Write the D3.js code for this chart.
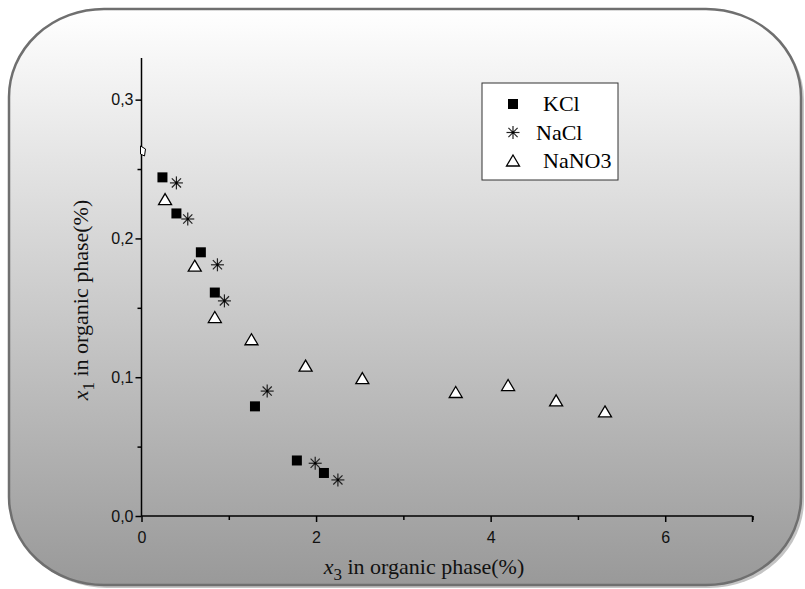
<!DOCTYPE html>
<html>
<head>
<meta charset="utf-8">
<script src="https://cdn.jsdelivr.net/npm/d3@7"></script>
<style>
  body { margin: 0; background: #fff; }
  svg { display: block; }
</style>
</head>
<body>
<div id="chart"></div>
<script>
// data
var kclX = [0.24, 0.40, 0.68, 0.84, 1.30, 1.78, 2.09];
var kclY = [0.244, 0.218, 0.190, 0.161, 0.079, 0.040, 0.031];

var naclX = [0.40, 0.53, 0.87, 0.95, 1.44, 1.99, 2.25];
var naclY = [0.240, 0.214, 0.181, 0.155, 0.090, 0.038, 0.026];

var nano3X = [0.27, 0.61, 0.84, 1.26, 1.88, 2.53, 3.60, 4.20, 4.75, 5.31];
var nano3Y = [0.228, 0.180, 0.143, 0.127, 0.108, 0.099, 0.089, 0.094, 0.083, 0.075];

var seriesNames = ["KCl", "NaCl", "NaNO3"];
var xTicks = [0, 2, 4, 6];
var xMinor = [1, 3, 5, 7];
var yTicks = [0.0, 0.1, 0.2, 0.3];
var yMinor = [0.05, 0.15, 0.25];

var W = 805, H = 589;

var svg = d3.select("#chart").append("svg")
    .attr("width", W)
    .attr("height", H);

var defs = svg.append("defs");
var grad = defs.append("linearGradient")
    .attr("id", "bg")
    .attr("x1", 0).attr("y1", 0).attr("x2", 0).attr("y2", 1);
grad.append("stop").attr("offset", "0%").attr("stop-color", "#ffffff");
grad.append("stop").attr("offset", "100%").attr("stop-color", "#999999");

// rounded frame with a soft shadow
svg.append("rect")
    .attr("x", 12).attr("y", 12)
    .attr("width", 792).attr("height", 576)
    .attr("rx", 95).attr("ry", 88)
    .attr("fill", "#c4c4c4");
svg.append("rect")
    .attr("x", 9).attr("y", 9)
    .attr("width", 792).attr("height", 576)
    .attr("rx", 95).attr("ry", 88)
    .attr("fill", "url(#bg)")
    .attr("stroke", "#6f6f6f")
    .attr("stroke-width", 2.5);

var x = d3.scaleLinear().domain([0, 7]).range([141.5, 752.5]);
var y = d3.scaleLinear().domain([0, 0.33]).range([516, 58]);

var fmt = function(d) { return d3.format(".1f")(d).replace(".", ","); };

// x axis
var xAxis = svg.append("g")
    .attr("transform", "translate(0," + y(0) + ")")
    .call(d3.axisBottom(x).tickValues(xTicks).tickSize(6).tickPadding(10)
        .tickFormat(d3.format("d")));
svg.append("g")
    .attr("transform", "translate(0," + y(0) + ")")
    .call(d3.axisBottom(x).tickValues(xMinor).tickSize(4).tickFormat(""))
    .select(".domain").remove();

// y axis
var yAxis = svg.append("g")
    .attr("transform", "translate(" + x(0) + ",0)")
    .call(d3.axisLeft(y).tickValues(yTicks).tickSize(6).tickPadding(2)
        .tickFormat(fmt));
svg.append("g")
    .attr("transform", "translate(" + x(0) + ",0)")
    .call(d3.axisLeft(y).tickValues(yMinor).tickSize(4).tickFormat(""))
    .select(".domain").remove();

xAxis.select(".domain").remove();
yAxis.select(".domain").remove();
svg.append("line")
    .attr("x1", x(0)).attr("x2", x(7))
    .attr("y1", y(0)).attr("y2", y(0))
    .attr("stroke", "#000").attr("stroke-width", 1.5);
svg.append("line")
    .attr("x1", x(7)).attr("x2", x(7))
    .attr("y1", y(0)).attr("y2", y(0) + 6)
    .attr("stroke", "#000").attr("stroke-width", 1.5);
svg.append("line")
    .attr("x1", x(0)).attr("x2", x(0))
    .attr("y1", y(0.33)).attr("y2", y(0))
    .attr("stroke", "#000").attr("stroke-width", 1.5);

svg.selectAll(".tick line").attr("stroke", "#000").attr("stroke-width", 1.5);
svg.selectAll(".tick text")
    .attr("fill", "#111")
    .style("font-family", "'Liberation Sans', Arial, sans-serif")
    .style("font-size", "16px");

// axis break mark on the y axis
var bY = y(0.263);
svg.append("path")
    .attr("d", "M" + (x(0) - 1) + "," + (bY - 5) + " L" + (x(0) + 4) + "," + (bY - 2) +
        " L" + (x(0) + 3) + "," + (bY + 5) + " L" + (x(0) - 1) + "," + (bY + 3) + "Z")
    .attr("fill", "#fff")
    .attr("stroke", "#000")
    .attr("stroke-width", 1);

// markers
function squareMark(g, cx, cy) {
    g.append("rect")
        .attr("x", cx - 5).attr("y", cy - 5)
        .attr("width", 10).attr("height", 10)
        .attr("fill", "#000");
}
function starMark(g, cx, cy) {
    var r = 6.5;
    for (var k = 0; k < 4; k++) {
        var a = k * Math.PI / 4;
        g.append("line")
            .attr("x1", cx - r * Math.cos(a)).attr("y1", cy - r * Math.sin(a))
            .attr("x2", cx + r * Math.cos(a)).attr("y2", cy + r * Math.sin(a))
            .attr("stroke", "#222").attr("stroke-width", 1.2);
    }
    g.append("circle").attr("cx", cx).attr("cy", cy).attr("r", 1.3).attr("fill", "#000");
}
function triMark(g, cx, cy) {
    g.append("path")
        .attr("d", "M" + cx + "," + (cy - 6) + " L" + (cx + 6.5) + "," + (cy + 5) +
            " L" + (cx - 6.5) + "," + (cy + 5) + "Z")
        .attr("fill", "#fff")
        .attr("stroke", "#000")
        .attr("stroke-width", 1.3);
}

var marks = svg.append("g");
var kcl = kclX.map(function(v, i) { return {x: v, y: kclY[i]}; });
var nacl = naclX.map(function(v, i) { return {x: v, y: naclY[i]}; });
var nano3 = nano3X.map(function(v, i) { return {x: v, y: nano3Y[i]}; });

nano3.forEach(function(d) { triMark(marks, x(d.x), y(d.y)); });
kcl.forEach(function(d) { squareMark(marks, x(d.x), y(d.y)); });
nacl.forEach(function(d) { starMark(marks, x(d.x), y(d.y)); });

// legend
var leg = svg.append("g");
leg.append("rect")
    .attr("x", 482).attr("y", 83)
    .attr("width", 136).attr("height", 97)
    .attr("fill", "#fff")
    .attr("stroke", "#333")
    .attr("stroke-width", 1);
var legMarks = [squareMark, starMark, triMark];
var legTextX = [543, 536, 543];
seriesNames.forEach(function(n, i) {
    var ly = 104 + i * 28.5;
    legMarks[i](leg, 513, ly);
    leg.append("text")
        .attr("x", legTextX[i]).attr("y", ly + 7)
        .style("font-family", "'Liberation Serif', 'Times New Roman', serif")
        .style("font-size", "22px")
        .attr("fill", "#000")
        .text(n);
});

// axis titles
var xt = svg.append("text")
    .attr("x", 424).attr("y", 574)
    .attr("text-anchor", "middle")
    .style("font-family", "'Liberation Serif', 'Times New Roman', serif")
    .style("font-size", "22px")
    .attr("fill", "#111");
xt.append("tspan").style("font-style", "italic").text("x");
xt.append("tspan").attr("dy", 6).style("font-size", "17px").text("3");
xt.append("tspan").attr("dy", -6).text(" in organic phase(%)");

var yt = svg.append("text")
    .attr("transform", "translate(88,300) rotate(-90)")
    .attr("text-anchor", "middle")
    .style("font-family", "'Liberation Serif', 'Times New Roman', serif")
    .style("font-size", "22px")
    .attr("fill", "#111");
yt.append("tspan").style("font-style", "italic").text("x");
yt.append("tspan").attr("dy", 6).style("font-size", "17px").text("1");
yt.append("tspan").attr("dy", -6).text(" in organic phase(%)");
</script>
</body>
</html>
